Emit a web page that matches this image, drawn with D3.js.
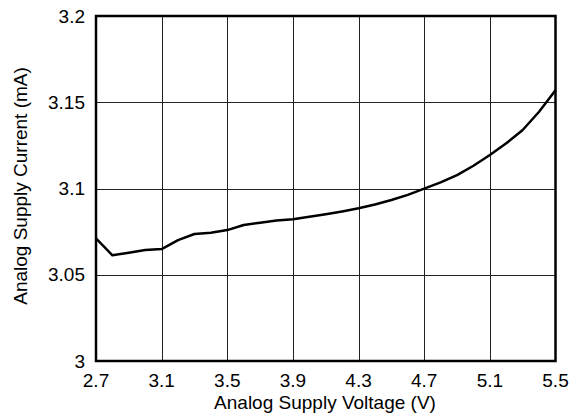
<!DOCTYPE html>
<html><head><meta charset="utf-8">
<script src="https://cdn.jsdelivr.net/npm/d3@7"></script>
<style>body{margin:0;background:#fff}svg{display:block}text{font-family:"Liberation Sans",Arial,sans-serif;fill:#000}</style>
</head><body><svg id="c" width="579" height="418"></svg>
<script>
const voltage = [2.7, 2.8, 2.9, 3.0, 3.1, 3.2, 3.3, 3.4, 3.5, 3.6, 3.7, 3.8, 3.9, 4.0, 4.1, 4.2, 4.3, 4.4, 4.5, 4.6, 4.7, 4.8, 4.9, 5.0, 5.1, 5.2, 5.3, 5.4, 5.5];
const current = [3.0711, 3.0613, 3.0628, 3.0643, 3.0649, 3.0701, 3.0736, 3.0744, 3.0759, 3.0788, 3.0802, 3.0814, 3.0822, 3.0836, 3.0851, 3.0867, 3.0885, 3.0907, 3.0933, 3.0963, 3.0999, 3.1036, 3.1078, 3.1132, 3.1194, 3.1262, 3.1339, 3.1445, 3.1570];
const xTicks = [2.7, 3.1, 3.5, 3.9, 4.3, 4.7, 5.1, 5.5];
const yTicks = [3, 3.05, 3.1, 3.15, 3.2];

const FS = 19;
const svg = d3.select("#c");
const L = 96, R = 555.5, T = 16, B = 361;
const x = d3.scaleLinear().domain([2.7, 5.5]).range([L, R]);
const y = d3.scaleLinear().domain([3, 3.2]).range([B, T]);

// grid
svg.append("g").selectAll("line").data(xTicks.slice(1, -1)).join("line")
  .attr("x1", d => Math.round(x(d)) + 0.5).attr("x2", d => Math.round(x(d)) + 0.5)
  .attr("y1", T).attr("y2", B).attr("stroke", "#222").attr("stroke-width", 1);
svg.append("g").selectAll("line").data(yTicks.slice(1, -1)).join("line")
  .attr("y1", d => Math.round(y(d)) + 0.5).attr("y2", d => Math.round(y(d)) + 0.5)
  .attr("x1", L).attr("x2", R).attr("stroke", "#222").attr("stroke-width", 1);

// curve
const line = d3.line().x((d, i) => x(voltage[i])).y(d => y(d)).curve(d3.curveLinear);
svg.append("path").datum(current).attr("d", line).attr("fill", "none")
  .attr("stroke", "#000").attr("stroke-width", 2.5).attr("stroke-linejoin", "round");

// frame
svg.append("rect").attr("x", L).attr("y", T).attr("width", R - L).attr("height", B - T)
  .attr("fill", "none").attr("stroke", "#000").attr("stroke-width", 2.5);

// tick labels
svg.append("g").selectAll("text").data(xTicks).join("text")
  .attr("x", d => x(d)).attr("y", 387)
  .attr("text-anchor", "middle").attr("font-size", FS).text(d3.format(".1f"));
svg.append("g").selectAll("text").data(yTicks).join("text")
  .attr("x", 85).attr("y", d => y(d) + 6.5)
  .attr("text-anchor", "end").attr("font-size", FS).text(d => String(d));

// titles
svg.append("text").attr("x", (209 + 441) / 2).attr("y", 409).attr("text-anchor", "middle")
  .attr("font-size", FS).text("Analog Supply Voltage (V)");
svg.append("text").attr("transform", `translate(27,186) rotate(-90)`).attr("text-anchor", "middle")
  .attr("font-size", FS).text("Analog Supply Current (mA)");
</script></body></html>
